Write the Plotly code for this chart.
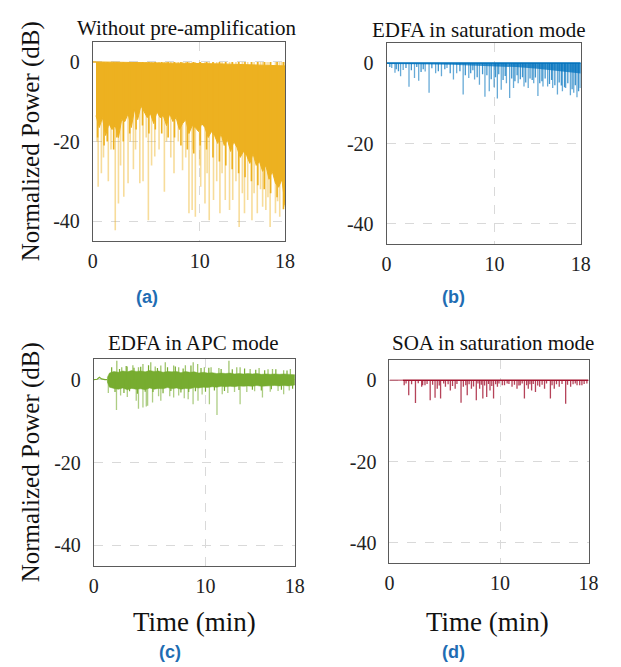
import plotly.graph_objects as go

W, H = 621, 667

# ---------------- data ----------------
# (a) Without pre-amplification: dense band (top / bottom edges) + dips
A_TOP_T = [0.3, 6.0, 12.0, 18.0]
A_TOP_V = [0.0, -0.2, -0.5, -1.0]
A_LOW_T = [0.3, 0.6, 0.9, 1.2, 1.5, 1.8, 2.1, 2.4, 2.7, 3.0, 3.3, 3.6, 3.9, 4.2, 4.5,
           4.8, 5.1, 5.4, 5.7, 6.0, 6.3, 6.6, 6.9, 7.2, 7.5, 7.8, 8.1, 8.4, 8.7, 9.0,
           9.3, 9.6, 9.9, 10.2, 10.5, 10.8, 11.1, 11.4, 11.7, 12.0, 12.3, 12.6, 12.9,
           13.2, 13.5, 13.8, 14.1, 14.4, 14.7, 15.0, 15.3, 15.6, 15.9, 16.2, 16.5,
           16.8, 17.1, 17.4, 17.7, 18.0]
A_LOW_V = [-13.5, -16.5, -14.0, -18.5, -15.5, -17.0, -16.0, -19.0, -14.5, -15.0, -13.0,
           -16.5, -12.0, -14.5, -11.0, -12.5, -14.0, -13.0, -15.5, -12.5, -14.0, -13.5,
           -16.0, -13.0, -15.0, -14.0, -17.0, -15.5, -14.5, -18.0, -16.0, -16.5, -17.5,
           -15.5, -16.5, -19.0, -17.5, -18.5, -20.5, -18.0, -21.0, -19.5, -22.5, -20.0,
           -21.5, -24.0, -22.5, -23.5, -25.5, -23.0, -26.0, -25.0, -27.5, -26.0, -29.5,
           -27.5, -30.5, -31.5, -29.5, -36.0]
A_DIP_T = [0.45, 1.05, 1.35, 1.95, 2.25, 2.85, 3.45, 4.05, 4.65, 5.25, 5.85, 6.45, 7.05,
           7.65, 8.25, 8.85, 9.45, 10.05, 10.65, 11.25, 11.85, 12.45, 13.05, 13.65, 14.25,
           14.85, 15.45, 16.05, 16.65, 17.25, 17.85]
A_DIP_V = [-19, -21, -20, -22, -19, -20, -18, -17, -16, -18, -17, -18, -19, -19, -21, -22,
           -23, -21, -22, -24, -25, -26, -27, -28, -29, -30, -31, -32, -33, -34, -37]
A_DEEP_T = [0.4, 0.5, 0.8, 1.0, 1.45, 1.7, 2.1, 2.4, 2.6, 2.9, 3.3, 3.5, 3.8, 4.0, 4.4,
            4.7, 5.0, 5.2, 5.5, 5.8, 6.2, 6.7, 6.9, 7.3, 7.6, 8.0, 8.4, 8.7, 9.0, 9.3,
            9.4, 9.6, 10.0, 10.1, 10.5, 10.7, 10.9, 11.3, 11.6, 11.9, 12.1, 12.4, 12.8,
            13.1, 13.4, 13.7, 14.0, 14.2, 14.5, 14.9, 15.1, 15.4, 15.7, 15.9, 16.2, 16.4,
            16.6, 17.1, 17.3, 17.5, 17.7, 17.9]
A_DEEP_V = [-20, -31.4, -28, -24, -30, -22, -42.3, -35.6, -26, -33.9, -30.5, -20, -27,
            -22, -30.5, -30, -19, -39.8, -26, -23.8, -22, -32.6, -20, -24, -28, -20, -27.2,
            -24, -38, -37.2, -22, -38.9, -26, -31.4, -35.6, -28, -39.8, -34.7, -30, -38,
            -28, -34.7, -37.2, -34.7, -30, -41.5, -33, -38, -34.7, -39.8, -33, -38, -32,
            -36.4, -37.2, -34, -41.5, -38, -35, -38.9, -30, -36.4]

# (b) EDFA in saturation mode
B_BAND_T = [0.0, 3.0, 6.0, 8.0, 10.0, 12.0, 14.0, 16.0, 18.0]
B_BAND_V = [-0.2, -0.3, -0.4, -0.6, -0.8, -1.0, -1.4, -2.0, -2.6]
B_DIP_T = [0.48, 0.78, 1.30, 1.54, 2.08, 2.59, 2.98, 3.58, 3.94, 4.55, 5.09, 5.6, 6.2,
           6.5, 7.1, 7.62, 8.16, 8.61, 9.12, 9.52, 9.97, 10.27, 10.63, 11.11, 11.41,
           11.77, 12.2, 12.74, 13.13, 13.64, 14.03, 14.5, 14.93, 15.4, 15.84, 16.3, 16.6,
           17.04, 17.35, 17.65, 17.95]
B_DIP_V = [-1.2, -2.4, -3.3, -1.7, -5.9, -3.7, -4.4, -2.1, -7.4, -2.5, -3.3, -1.2, -4.1,
           -2.5, -7.8, -3.7, -4.1, -5.4, -8.4, -7.0, -6.0, -8.8, -6.6, -5.0, -8.7, -6.2,
           -5.0, -5.8, -6.2, -5.0, -8.2, -5.8, -5.8, -6.2, -7.8, -7.0, -6.2, -8.0, -7.4,
           -8.5, -6.2]
B_MINOR_T = [0.3, 0.9, 1.1, 1.8, 2.3, 2.8, 3.2, 3.4, 4.2, 4.8, 5.4, 5.9, 6.8, 7.3, 7.8,
             8.0, 8.4, 8.9, 9.3, 9.7, 10.1, 10.4, 10.8, 11.0, 11.6, 11.9, 12.1, 12.4,
             12.6, 12.9, 13.3, 13.5, 13.8, 14.2, 14.4, 14.7, 15.1, 15.3, 15.6, 16.0,
             16.2, 16.5, 16.8, 17.2, 17.5, 17.8]
B_MINOR_V = [-1.0, -1.5, -2.0, -1.2, -1.8, -1.0, -2.2, -1.5, -1.3, -2.0, -1.5, -2.5, -2.0,
             -3.0, -2.5, -1.8, -3.5, -2.8, -3.0, -4.0, -3.5, -2.8, -4.2, -3.2, -3.8, -4.5,
             -3.0, -4.0, -3.5, -4.8, -3.8, -4.2, -3.6, -5.0, -4.5, -3.8, -5.2, -4.2, -5.5,
             -4.8, -5.6, -6.0, -5.0, -6.5, -5.5, -7.0]

# (c) EDFA in APC mode
C_PRE_T = [0.0, 0.3, 0.5, 0.7, 1.0, 1.2]
C_PRE_V = [0.0, 0.1, 0.6, 0.2, 0.0, 0.0]
C_T = [1.2, 1.4, 1.8, 2.2, 2.6, 3.0, 3.4, 3.8, 4.2, 4.6, 5.0, 5.4, 5.8, 6.2, 6.6, 7.0,
       7.4, 7.8, 8.2, 8.6, 9.0, 9.4, 9.8, 10.2, 10.6, 11.0, 11.4, 11.8, 12.2, 12.6, 13.0,
       13.4, 13.8, 14.2, 14.6, 15.0, 15.4, 15.8, 16.2, 16.6, 17.0, 17.4, 17.8, 18.0]
C_UP = [0.5, 1.6, 2.0, 1.8, 2.1, 1.9, 2.2, 2.0, 2.1, 1.9, 2.2, 2.0, 2.1, 1.8, 2.0, 1.9,
        2.0, 1.7, 2.0, 1.8, 1.9, 1.6, 1.8, 1.6, 1.7, 1.5, 1.6, 1.5, 1.6, 1.4, 1.5, 1.4,
        1.5, 1.4, 1.5, 1.3, 1.4, 1.3, 1.4, 1.3, 1.4, 1.3, 1.3, 1.2]
C_LOW = [-0.5, -1.8, -2.1, -2.3, -2.0, -2.4, -2.1, -2.3, -2.2, -2.4, -2.0, -2.3, -2.1,
         -2.2, -1.9, -2.2, -2.0, -2.3, -2.1, -2.2, -1.9, -2.0, -1.8, -1.9, -1.7, -1.8,
         -1.6, -1.7, -1.6, -1.7, -1.5, -1.6, -1.5, -1.6, -1.4, -1.6, -1.5, -1.5, -1.4,
         -1.5, -1.4, -1.5, -1.4, -1.3]
C_TEX_T = [1.6, 1.9, 2.3, 2.7, 2.9, 3.2, 3.6, 3.9, 4.2, 4.6, 4.9, 5.3, 5.7, 6.2, 6.6,
           6.9, 7.3, 7.8, 8.0, 8.5, 8.7, 9.1, 9.6, 10.0, 10.3, 10.8, 11.4, 11.7, 12.4,
           13.0, 13.5, 14.2, 14.5, 15.0, 15.3, 15.9, 16.3, 16.8, 17.3, 17.8]
C_TEX_V = [3.0, -3.0, 2.6, -3.2, 3.3, -2.8, 2.9, -3.4, 3.1, -2.9, 3.5, -3.0, 2.8, -3.3,
           3.0, -2.7, 3.2, -3.1, 2.7, -3.0, 3.4, -2.8, 2.8, -2.9, 2.9, -2.6, 2.6, -2.7,
           2.5, -2.5, 2.7, -2.4, 2.4, -2.6, 2.3, -2.3, 2.5, -2.4, 2.2, -2.2]
C_UPSPIKE_T = [2.06, 2.5, 3.0, 3.5, 4.0, 4.4, 5.1, 5.5, 6.0, 6.4, 7.15, 7.6, 8.2, 8.9,
               9.3, 9.9, 10.5, 11.2, 12.1, 12.8, 13.1, 14.0, 14.8, 15.6, 16.0, 17.0, 17.6]
C_UPSPIKE_V = [4.6, 3.0, 3.2, 3.5, 3.0, 3.8, 4.2, 3.2, 3.4, 4.2, 3.4, 3.0, 3.5, 4.2, 3.8,
               3.0, 3.0, 2.8, 4.6, 3.0, 3.0, 2.6, 2.8, 2.5, 2.6, 2.3, 2.6]
C_DNSPIKE_T = [1.3, 2.03, 2.4, 3.0, 3.8, 4.0, 4.4, 4.7, 4.82, 5.26, 5.8, 6.0, 6.8, 7.15,
               7.6, 8.1, 8.45, 8.89, 9.33, 9.7, 10.35, 11.03, 11.5, 12.0, 12.6, 13.1,
               13.7, 14.4, 15.1, 15.8, 16.5, 17.0, 17.5]
C_DNSPIKE_V = [-3.2, -7.3, -3.8, -4.2, -5.1, -7.0, -6.7, -6.5, -6.3, -5.5, -4.0, -5.1,
               -4.0, -4.3, -3.8, -4.5, -4.7, -5.9, -5.1, -3.6, -5.9, -8.5, -3.5, -3.2,
               -3.0, -5.9, -3.0, -2.8, -4.3, -2.9, -2.7, -3.5, -2.6]

# (d) SOA in saturation mode
D_DIP_T = [1.33, 1.74, 2.35, 2.91, 3.21, 3.68, 4.12, 4.32, 4.62, 5.06, 5.50, 5.94, 6.47,
           6.68, 7.03, 7.41, 7.85, 8.15, 8.44, 8.79, 9.09, 9.41, 9.76, 10.2, 10.64,
           11.08, 11.53, 11.82, 12.2, 12.55, 12.85, 13.2, 13.58, 14.02, 14.55, 14.9,
           15.35, 15.93, 16.38, 16.96, 17.4, 17.85]
D_DIP_V = [-1.2, -3.7, -5.6, -1.6, -1.2, -4.9, -4.3, -2.1, -4.5, -1.6, -2.5, -2.1, -5.5,
           -1.6, -3.7, -2.1, -4.9, -2.1, -4.5, -4.1, -2.5, -4.5, -1.6, -1.2, -0.8, -1.6,
           -2.1, -1.2, -4.5, -2.1, -2.5, -2.9, -1.6, -2.1, -4.5, -2.1, -1.6, -5.8, -1.6,
           -1.2, -1.2, -0.8]
D_MINOR_T = [1.5, 2.0, 2.6, 3.0, 3.4, 3.9, 4.5, 4.9, 5.3, 5.7, 6.1, 6.9, 7.2, 7.6, 8.0,
             8.3, 8.6, 8.95, 9.25, 9.6, 9.9, 10.4, 10.8, 11.3, 11.7, 12.0, 12.4, 12.7,
             13.0, 13.4, 13.8, 14.2, 14.7, 15.1, 15.6, 16.1, 16.6, 16.8, 17.2, 17.6]
D_MINOR_V = [-0.8, -1.0, -0.7, -1.2, -0.9, -1.1, -1.3, -0.8, -1.0, -1.4, -0.9, -1.2, -1.0,
             -1.5, -0.8, -1.1, -1.3, -0.9, -1.4, -1.0, -0.8, -1.2, -0.9, -1.1, -1.3, -0.8,
             -1.2, -1.0, -0.9, -1.3, -1.1, -0.8, -1.2, -1.0, -0.9, -1.1, -1.0, -0.8, -1.2,
             -0.9]

TITLES = ["Without pre-amplification", "EDFA in saturation mode",
          "EDFA in APC mode", "SOA in saturation mode"]
SUBLABELS = ["(a)", "(b)", "(c)", "(d)"]
X_TICKS = [0, 10, 18]
Y_TICKS = [0, -20, -40]
Y_TICK_TEXT = ["0", "-20", "-40"]
X_RANGE = [0, 18]
Y_RANGE = [-45, 5]

ORANGE = "#EDB120"
BLUE = "#0072BD"
GREEN = "#77AC30"
RED = "#A2142F"
SERIF = "Liberation Serif, Times New Roman, serif"


def spikes(ts, vs, base=0.0):
    xs, ys = [], []
    for t, v in zip(ts, vs):
        xs += [t, t, None]
        ys += [base, v, None]
    return xs, ys


fig = go.Figure()


def add(trace, k):
    ax = "" if k == 1 else str(k)
    trace.update(xaxis="x" + ax, yaxis="y" + ax, showlegend=False, hoverinfo="skip")
    fig.add_trace(trace)


# (a)
add(go.Scatter(x=[0, 0.3], y=[0, 0], mode="lines", line=dict(color=ORANGE, width=1.5)), 1)
xs, ys = spikes(A_DEEP_T, A_DEEP_V)
add(go.Scatter(x=xs, y=ys, mode="lines", line=dict(color="rgba(237,177,32,0.45)", width=1.6)), 1)
add(go.Scatter(x=A_TOP_T + A_LOW_T[::-1], y=A_TOP_V + A_LOW_V[::-1], mode="lines",
               fill="toself", fillcolor=ORANGE, line=dict(color=ORANGE, width=1)), 1)
xs, ys = spikes(A_DIP_T, A_DIP_V)
add(go.Scatter(x=xs, y=ys, mode="lines", line=dict(color=ORANGE, width=1.6)), 1)

# (b)
xs, ys = spikes(B_DIP_T, B_DIP_V)
add(go.Scatter(x=xs, y=ys, mode="lines", line=dict(color="rgba(0,114,189,0.6)", width=1.3)), 2)
xs, ys = spikes(B_MINOR_T, B_MINOR_V)
add(go.Scatter(x=xs, y=ys, mode="lines", line=dict(color="rgba(0,114,189,0.75)", width=1.3)), 2)
add(go.Scatter(x=B_BAND_T + B_BAND_T[::-1], y=[0] * len(B_BAND_T) + B_BAND_V[::-1],
               mode="lines", fill="toself", fillcolor="rgba(0,114,189,0.75)",
               line=dict(width=0)), 2)
add(go.Scatter(x=[0, 18], y=[0, 0], mode="lines", line=dict(color=BLUE, width=1.5)), 2)

# (c)
add(go.Scatter(x=C_PRE_T, y=C_PRE_V, mode="lines", line=dict(color=GREEN, width=1.2)), 3)
xs, ys = spikes(C_UPSPIKE_T, C_UPSPIKE_V)
add(go.Scatter(x=xs, y=ys, mode="lines", line=dict(color="rgba(119,172,48,0.7)", width=1.3)), 3)
xs, ys = spikes(C_DNSPIKE_T, C_DNSPIKE_V)
add(go.Scatter(x=xs, y=ys, mode="lines", line=dict(color="rgba(119,172,48,0.6)", width=1.3)), 3)
add(go.Scatter(x=C_T + C_T[::-1], y=C_UP + C_LOW[::-1], mode="lines", fill="toself",
               fillcolor=GREEN, line=dict(color=GREEN, width=0.5)), 3)
xs, ys = spikes(C_TEX_T, C_TEX_V)
add(go.Scatter(x=xs, y=ys, mode="lines", line=dict(color=GREEN, width=1.2)), 3)

# (d)
add(go.Scatter(x=[0, 1.2], y=[0, 0], mode="lines", line=dict(color="rgba(162,20,47,0.55)", width=1.5)), 4)
xs, ys = spikes(D_DIP_T, D_DIP_V)
add(go.Scatter(x=xs, y=ys, mode="lines", line=dict(color="rgba(162,20,47,0.8)", width=1.3)), 4)
xs, ys = spikes(D_MINOR_T, D_MINOR_V)
add(go.Scatter(x=xs, y=ys, mode="lines", line=dict(color="rgba(162,20,47,0.8)", width=1.3)), 4)
add(go.Scatter(x=[1.2, 18], y=[0, 0], mode="lines", line=dict(color=RED, width=1.5)), 4)

# plot boxes in pixels: (left, right, top, bottom)
BOXES = [(90, 287, 42, 241), (391, 590, 43, 244), (91, 297, 359, 566), (394, 598, 360, 563)]

axis_common = dict(showline=True, mirror=True, linecolor="#5a5a5a", linewidth=1,
                   showgrid=True, gridcolor="#d9d9d9", griddash="dash", gridwidth=1,
                   zeroline=False, ticks="", tickfont=dict(family=SERIF, size=20, color="#222"))

layout = dict(width=W, height=H, margin=dict(l=0, r=0, t=0, b=0),
              paper_bgcolor="white", plot_bgcolor="white", showlegend=False)
for i, (l, r, t, b) in enumerate(BOXES):
    k = "" if i == 0 else str(i + 1)
    layout["xaxis" + k] = dict(axis_common, domain=[l / W, r / W], range=X_RANGE,
                               tickvals=X_TICKS, ticktext=[str(v) for v in X_TICKS],
                               anchor="y" + k, ticklabelstandoff=2)
    layout["yaxis" + k] = dict(axis_common, domain=[1 - b / H, 1 - t / H], range=Y_RANGE,
                               tickvals=Y_TICKS, ticktext=Y_TICK_TEXT,
                               anchor="x" + k, ticklabelstandoff=8)
fig.update_layout(**layout)

ann = []
TITLE_POS = [(186, 28), (486, 30), (193, 343), (500, 343)]
for (x, y), txt in zip(TITLE_POS, TITLES):
    ann.append(dict(x=x / W, y=1 - y / H, xref="paper", yref="paper", text=txt,
                    showarrow=False, xanchor="center", yanchor="middle",
                    font=dict(family=SERIF, size=21, color="#111")))
SUB_POS = [(146, 297), (460, 297), (169, 652), (460, 652)]
for (x, y), txt in zip(SUB_POS, SUBLABELS):
    ann.append(dict(x=x / W, y=1 - y / H, xref="paper", yref="paper", text="<b>%s</b>" % txt,
                    showarrow=False, xanchor="center", yanchor="middle", borderpad=0,
                    font=dict(family="Liberation Sans, Arial, sans-serif", size=18, color="#1f6db3")))
for y in (141, 462):
    ann.append(dict(x=27 / W, y=1 - y / H, xref="paper", yref="paper",
                    text="Normalized Power (dB)", showarrow=False,
                    textangle=-90, xanchor="center", yanchor="middle",
                    font=dict(family=SERIF, size=25, color="#111")))
for x in (194, 494):
    ann.append(dict(x=x / W, y=1 - 622 / H, xref="paper", yref="paper", text="Time (min)",
                    showarrow=False, xanchor="center", yanchor="middle",
                    font=dict(family=SERIF, size=27, color="#111")))
fig.update_layout(annotations=ann)

fig.write_html("out.html", config={"displayModeBar": False},
               post_script="document.body.style.margin='0';document.body.style.padding='0';")
